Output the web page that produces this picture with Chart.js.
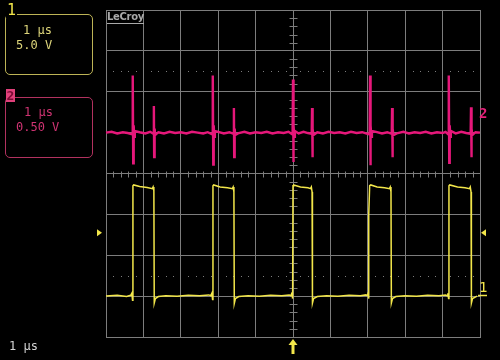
<!DOCTYPE html>
<html>
<head>
<meta charset="utf-8">
<script src="https://cdn.jsdelivr.net/npm/chart.js@4.4.1/dist/chart.umd.min.js"></script>
<style>
  html, body { margin:0; padding:0; background:#000; }
  #wrap { position:relative; width:500px; height:360px; background:#000; overflow:hidden; }
  canvas { position:absolute; left:0; top:0; }
  .mono { position:absolute; font-family:"DejaVu Sans Mono", monospace; font-size:12px; line-height:14px; white-space:pre; }
  .box { position:absolute; border-radius:5px; box-sizing:border-box; }
</style>
</head>
<body>
<div id="wrap">
  <canvas id="c" width="500" height="360"></canvas>
  <div class="box" style="left:5px;top:14px;width:88px;height:61px;border:1.5px solid #bdb356;"></div>
  <div class="mono" style="left:6px;top:2px;font-size:15px;line-height:16px;color:#f2e64a;background:#000;padding:0 1px;">1</div>
  <div class="mono" style="left:23px;top:23px;color:#ddd57a;">1 µs</div>
  <div class="mono" style="left:16px;top:38px;color:#ddd57a;">5.0 V</div>

  <div class="box" style="left:5px;top:97px;width:88px;height:61px;border:1.5px solid #b2325f;"></div>
  <div class="mono" style="left:6px;top:89px;width:9px;height:13px;font-size:13px;line-height:13px;color:#7a0b33;background:#e0407a;text-align:center;font-weight:bold;">2</div>
  <div class="mono" style="left:24px;top:105px;color:#cf3372;">1 µs</div>
  <div class="mono" style="left:16px;top:120px;color:#cf3372;">0.50 V</div>

  <div class="mono" style="left:9px;top:339px;color:#d4d4d4;">1 µs</div>

  <div style="position:absolute;left:107px;top:11px;font-family:'DejaVu Sans',sans-serif;font-size:10px;font-weight:bold;color:#a9a9a9;letter-spacing:-0.3px;line-height:12px;border-bottom:1px solid #a9a9a9;">LeCroy</div>

  <div class="mono" style="left:479px;top:105px;font-size:14px;line-height:16px;color:#e8207a;font-weight:bold;">2</div>
  <div class="mono" style="left:479px;top:279px;font-size:14px;line-height:16px;color:#f2e64a;">1</div>
</div>
<script>
// ---- data (x in µs, y in divisions) ----
const xTicks = [-5,-4,-3,-2,-1,0,1,2,3,4,5];
const yTicks = [-4,-3,-2,-1,0,1,2,3,4];

// Channel 2 (magenta) trace points [time µs, divisions]
const ch2Points = [
  [-5.00,1.00],[-4.85,1.02],[-4.70,0.98],[-4.55,1.01],[-4.42,0.99],
  [-4.30,0.96],[-4.29,1.06],[-4.28,2.40],[-4.272,0.25],[-4.26,1.18],[-4.245,0.90],[-4.23,1.04],
  [-4.10,1.01],[-3.95,0.98],[-3.82,1.02],
  [-3.73,0.97],[-3.72,1.65],[-3.712,0.40],[-3.70,1.10],[-3.685,0.94],
  [-3.60,1.01],[-3.45,0.98],[-3.30,1.02],[-3.15,0.99],[-3.00,1.01],[-2.85,0.98],[-2.70,1.02],[-2.55,1.00],[-2.40,0.98],[-2.28,1.01],
  [-2.16,0.96],[-2.15,1.06],[-2.14,2.40],[-2.132,0.22],[-2.12,1.18],[-2.105,0.90],[-2.09,1.04],
  [-2.00,1.02],[-1.85,0.98],[-1.70,1.01],
  [-1.59,0.97],[-1.58,1.60],[-1.572,0.40],[-1.56,1.10],[-1.545,0.94],
  [-1.45,0.99],[-1.30,1.02],[-1.15,0.98],[-1.00,1.01],[-0.85,0.99],[-0.70,1.02],[-0.55,0.98],[-0.40,1.01],[-0.25,0.99],[-0.12,1.02],
  [-0.02,0.96],[-0.01,1.06],[0.00,2.30],[0.008,0.28],[0.02,1.18],[0.035,0.90],[0.05,1.04],
  [0.15,0.98],[0.28,1.02],[0.40,0.99],
  [0.50,0.97],[0.51,1.60],[0.518,0.40],[0.53,1.10],[0.545,0.94],
  [0.65,1.01],[0.80,0.98],[0.95,1.02],[1.10,0.99],[1.25,1.01],[1.40,0.98],[1.55,1.02],[1.70,0.99],[1.85,1.01],[1.95,0.98],
  [2.04,0.96],[2.05,1.06],[2.06,2.40],[2.068,0.20],[2.08,1.18],[2.095,0.90],[2.11,1.04],
  [2.22,1.02],[2.38,0.98],[2.52,1.01],
  [2.64,0.97],[2.65,1.60],[2.658,0.40],[2.67,1.10],[2.685,0.94],
  [2.80,0.99],[2.95,1.02],[3.10,0.98],[3.25,1.01],[3.40,0.99],[3.55,1.02],[3.70,0.98],[3.85,1.01],[4.00,0.99],[4.08,1.02],
  [4.15,0.96],[4.16,1.06],[4.17,2.40],[4.178,0.26],[4.19,1.18],[4.205,0.90],[4.22,1.04],
  [4.35,0.98],[4.50,1.02],[4.63,0.99],
  [4.75,0.97],[4.76,1.62],[4.768,0.40],[4.78,1.10],[4.795,0.94],
  [4.88,1.01],[5.00,1.00],[5.08,1.00]
];

// Channel 1 (yellow) trace points [time µs, divisions]
const ch1Points = [
  [-5.00,-3.00],[-4.70,-2.98],[-4.45,-3.01],[-4.34,-2.98],[-4.31,-2.93],[-4.29,-3.10],
  [-4.28,-0.30],[-4.26,-0.28],[-4.10,-0.32],[-3.90,-0.34],[-3.76,-0.37],[-3.74,-0.33],[-3.72,-0.42],
  [-3.71,-3.17],[-3.68,-3.06],[-3.60,-3.01],[-3.40,-2.99],[-3.10,-3.00],[-2.80,-2.98],[-2.50,-2.99],[-2.25,-2.97],[-2.20,-2.99],[-2.17,-2.93],[-2.15,-3.08],
  [-2.14,-0.30],[-2.12,-0.28],[-1.95,-0.33],[-1.75,-0.35],[-1.62,-0.37],[-1.60,-0.33],[-1.58,-0.45],
  [-1.57,-3.18],[-1.54,-3.06],[-1.45,-3.01],[-1.20,-2.99],[-0.90,-3.00],[-0.60,-2.98],[-0.30,-2.99],[-0.10,-2.97],[-0.06,-2.99],[-0.03,-2.93],[-0.01,-3.06],
  [0.00,-0.30],[0.02,-0.28],[0.20,-0.33],[0.40,-0.35],[0.47,-0.37],[0.49,-0.33],[0.51,-0.45],
  [0.52,-3.17],[0.55,-3.06],[0.65,-3.01],[0.90,-2.99],[1.20,-3.00],[1.50,-2.98],[1.80,-2.99],[1.95,-2.97],[1.99,-2.99],[2.01,-2.93],[2.02,-3.06],
  [2.03,-1.00],[2.05,-0.30],[2.08,-0.28],[2.25,-0.33],[2.45,-0.35],[2.58,-0.37],[2.60,-0.33],[2.62,-0.45],
  [2.63,-3.17],[2.66,-3.06],[2.75,-3.01],[3.00,-2.99],[3.30,-3.00],[3.60,-2.98],[3.90,-2.99],[4.08,-2.97],[4.12,-2.99],[4.14,-2.93],[4.16,-3.06],
  [4.17,-0.30],[4.19,-0.28],[4.40,-0.33],[4.60,-0.35],[4.72,-0.37],[4.74,-0.33],[4.76,-0.45],
  [4.77,-3.17],[4.80,-3.06],[4.92,-3.00]
];

const trigLevel = -1.45;   // channel 1 trigger level (div)
const trigTime = 0;        // trigger position (µs)
const dotLevels = [2.5, -2.5];

const GRID = '#7d7d7d';
const MAG = '#e6177a';
const YEL = '#f2e64a';

const decor = {
  id: 'decor',
  beforeDatasetsDraw(chart) {
    const {ctx, scales:{x, y}} = chart;
    ctx.save();
    ctx.strokeStyle = GRID;
    ctx.fillStyle = GRID;
    ctx.lineWidth = 1;
    const cx = Math.round(x.getPixelForValue(0)) + 0.5;
    const cy = Math.round(y.getPixelForValue(0)) + 0.5;
    ctx.beginPath();
    for (let i = -25; i <= 25; i++) {
      if (i % 5 === 0) continue;
      const px = Math.round(x.getPixelForValue(i * 0.2)) + 0.5;
      ctx.moveTo(px, cy - 3); ctx.lineTo(px, cy + 3);
    }
    for (let i = -20; i <= 20; i++) {
      if (i % 5 === 0) continue;
      const py = Math.round(y.getPixelForValue(i * 0.2)) + 0.5;
      ctx.moveTo(cx - 4, py); ctx.lineTo(cx + 4, py);
    }
    ctx.stroke();
    // dotted reference lines
    dotLevels.forEach(lv => {
      const py = Math.round(y.getPixelForValue(lv));
      for (let i = -25; i <= 25; i++) {
        if (i % 5 === 0) continue;
        const px = Math.round(x.getPixelForValue(i * 0.2));
        ctx.fillRect(px, py, 1, 1);
      }
    });
    ctx.restore();
  },
  afterDraw(chart) {
    const {ctx, chartArea, scales:{x, y}} = chart;
    ctx.save();
    ctx.fillStyle = YEL;
    const ty = y.getPixelForValue(trigLevel);
    // left trigger triangle (pointing right)
    ctx.beginPath();
    ctx.moveTo(chartArea.left - 9, ty - 3.5);
    ctx.lineTo(chartArea.left - 4, ty);
    ctx.lineTo(chartArea.left - 9, ty + 3.5);
    ctx.closePath(); ctx.fill();
    // right trigger triangle (pointing left)
    ctx.beginPath();
    ctx.moveTo(chartArea.right + 6, ty - 3.5);
    ctx.lineTo(chartArea.right + 1, ty);
    ctx.lineTo(chartArea.right + 6, ty + 3.5);
    ctx.closePath(); ctx.fill();
    // trigger time arrow (pointing up)
    const ax = x.getPixelForValue(trigTime);
    const ab = chartArea.bottom;
    ctx.beginPath();
    ctx.moveTo(ax, ab + 2);
    ctx.lineTo(ax - 4.5, ab + 8);
    ctx.lineTo(ax + 4.5, ab + 8);
    ctx.closePath(); ctx.fill();
    ctx.fillRect(ax - 1.5, ab + 7, 3, 10);
    // channel 1 ground marker underline
    const gy = Math.round(y.getPixelForValue(-3.0)) - 0.5;
    ctx.strokeStyle = YEL; ctx.lineWidth = 1.5;
    ctx.beginPath(); ctx.moveTo(chartArea.right - 2, gy); ctx.lineTo(chartArea.right + 7, gy); ctx.stroke();
    ctx.restore();
  }
};

new Chart(document.getElementById('c'), {
  type: 'line',
  data: {
    datasets: [
      { label: 'CH2', data: ch2Points.map(p => ({x:p[0], y:p[1]})), borderColor: MAG, borderWidth: 2.4,
        pointRadius: 0, tension: 0, clip: false },
      { label: 'CH1', data: ch1Points.map(p => ({x:p[0], y:p[1]})), borderColor: YEL, borderWidth: 1.5,
        pointRadius: 0, tension: 0 }
    ]
  },
  options: {
    responsive: false,
    animation: false,
    events: [],
    layout: { padding: { left: 106, right: 20, top: 10, bottom: 23 } },
    plugins: { legend: { display: false }, tooltip: { enabled: false } },
    scales: {
      x: { type: 'linear', min: -5, max: 5,
           afterBuildTicks: s => { s.ticks = xTicks.map(v => ({value: v})); },
           ticks: { display: false },
           grid: { color: GRID, lineWidth: 1, drawTicks: false },
           border: { display: true, color: GRID, width: 1 } },
      y: { type: 'linear', min: -4, max: 4,
           afterBuildTicks: s => { s.ticks = yTicks.map(v => ({value: v})); },
           ticks: { display: false },
           grid: { color: GRID, lineWidth: 1, drawTicks: false },
           border: { display: true, color: GRID, width: 1 } }
    }
  },
  plugins: [decor]
});
</script>
</body>
</html>
